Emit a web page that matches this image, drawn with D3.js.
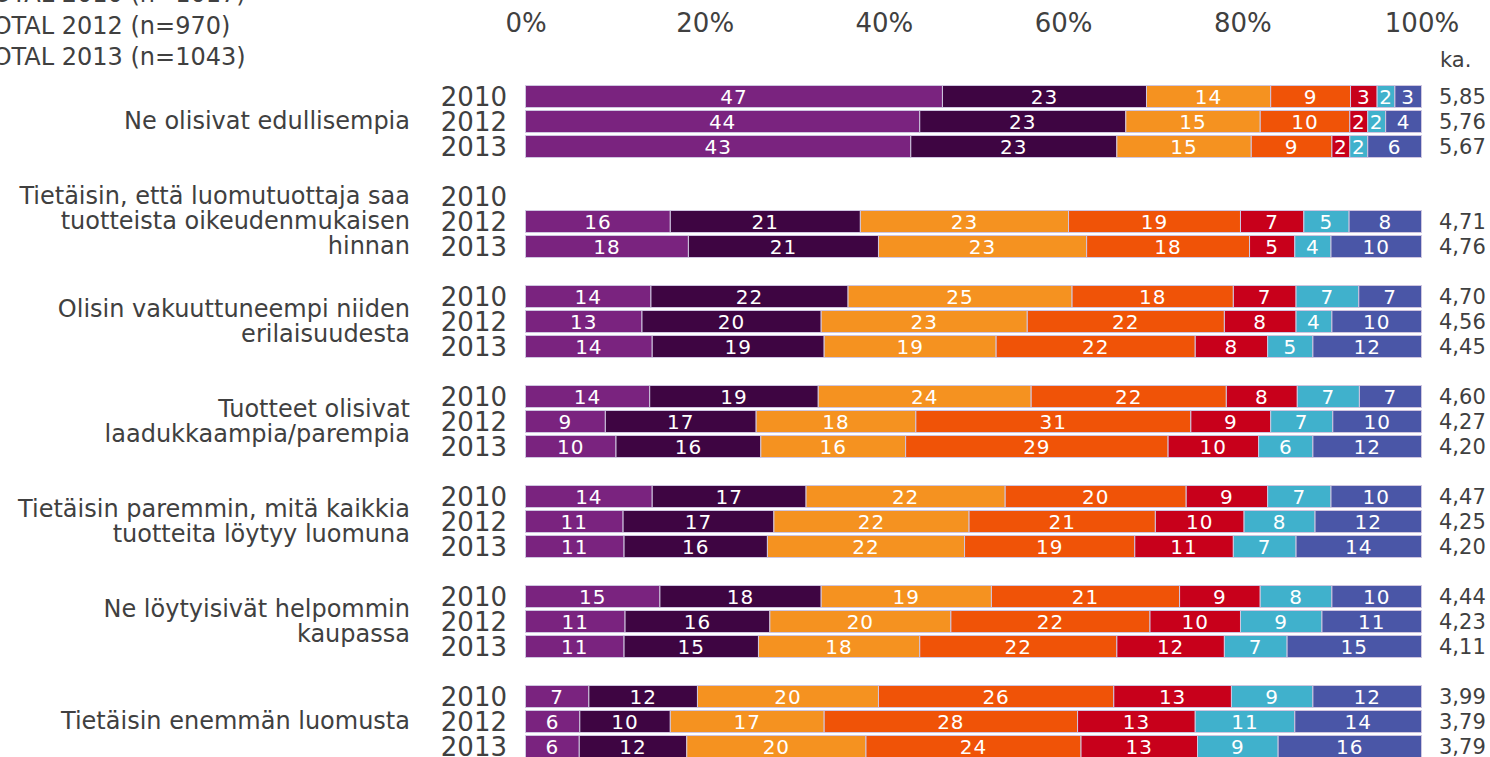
<!DOCTYPE html>
<html>
<head>
<meta charset="utf-8">
<script src="https://cdn.jsdelivr.net/npm/d3@7"></script>
<style>
  body { margin: 0; background: #fff; }
  svg { display: block; font-family: "DejaVu Sans", Verdana, sans-serif; }
  text { fill: #404040; }
</style>
</head>
<body>
<svg width="1490" height="757"></svg>
<script>
// the data
var categories = [
    "Ne olisivat edullisempia",
    "Tietäisin, että luomutuottaja saa|tuotteista oikeudenmukaisen|hinnan",
    "Olisin vakuuttuneempi niiden|erilaisuudesta",
    "Tuotteet olisivat|laadukkaampia/parempia",
    "Tietäisin paremmin, mitä kaikkia|tuotteita löytyy luomuna",
    "Ne löytyisivät helpommin|kaupassa",
    "Tietäisin enemmän luomusta"
];
var years = ["2010", "2012", "2013"];
var totals = ["TOTAL 2010 (n=1017)", "TOTAL 2012 (n=970)", "TOTAL 2013 (n=1043)"];

var values2010 = [
    [47, 23, 14, 9, 3, 2, 3],
    null,
    [14, 22, 25, 18, 7, 7, 7],
    [14, 19, 24, 22, 8, 7, 7],
    [14, 17, 22, 20, 9, 7, 10],
    [15, 18, 19, 21, 9, 8, 10],
    [7, 12, 20, 26, 13, 9, 12]
];
var values2012 = [
    [44, 23, 15, 10, 2, 2, 4],
    [16, 21, 23, 19, 7, 5, 8],
    [13, 20, 23, 22, 8, 4, 10],
    [9, 17, 18, 31, 9, 7, 10],
    [11, 17, 22, 21, 10, 8, 12],
    [11, 16, 20, 22, 10, 9, 11],
    [6, 10, 17, 28, 13, 11, 14]
];
var values2013 = [
    [43, 23, 15, 9, 2, 2, 6],
    [18, 21, 23, 18, 5, 4, 10],
    [14, 19, 19, 22, 8, 5, 12],
    [10, 16, 16, 29, 10, 6, 12],
    [11, 16, 22, 19, 11, 7, 14],
    [11, 15, 18, 22, 12, 7, 15],
    [6, 12, 20, 24, 13, 9, 16]
];
var means2010 = ["5,85", "", "4,70", "4,60", "4,47", "4,44", "3,99"];
var means2012 = ["5,76", "4,71", "4,56", "4,27", "4,25", "4,23", "3,79"];
var means2013 = ["5,67", "4,76", "4,45", "4,20", "4,20", "4,11", "3,79"];

var xTicks = [0, 20, 40, 60, 80, 100];
var segColors = ["#7a237f", "#3e0542", "#f59220", "#f05307", "#c8001b", "#40b1cc", "#4a56a7"];

var svg = d3.select("svg");

// build one row per category/year, plus an empty slot between groups
var rows = [], slots = [];
categories.forEach(function(c, i) {
    [values2010, values2012, values2013].forEach(function(arr, j) {
        var key = i + "-" + years[j];
        slots.push(key);
        rows.push({key: key, cat: i, year: years[j], vals: arr[i],
                   mean: [means2010, means2012, means2013][j][i]});
    });
    if (i < categories.length - 1) slots.push("gap" + i);
});

var x = d3.scaleLinear().domain([0, 100]).range([525.5, 1421.5]);
var y = d3.scaleBand().domain(slots).range([84, 759]).paddingInner(0.12).paddingOuter(0.06);

// top legend lines (clipped at the left and top like the source)
svg.append("g").selectAll("text")
    .data(totals)
    .enter().append("text")
    .attr("x", -22)
    .attr("y", (d, i) => 2 + i * 31.5)
    .style("font-size", "24px")
    .text(d => d);

// axis on top, only labels
var axis = svg.append("g")
    .attr("transform", "translate(0,32)")
    .call(d3.axisTop(x).tickValues(xTicks).tickFormat(d => d + "%").tickSize(0).tickPadding(0));
axis.select(".domain").remove();
axis.selectAll("text")
    .style("font-size", "26px")
    .style("font-family", "DejaVu Sans, Verdana, sans-serif")
    .attr("fill", "#404040")
    .attr("dy", 0);

svg.append("text")
    .attr("x", 1440)
    .attr("y", 67)
    .style("font-size", "21px")
    .text("ka.");

// bars
var rowG = svg.append("g").selectAll("g")
    .data(rows)
    .enter().append("g")
    .attr("transform", d => "translate(0," + y(d.key) + ")");

rowG.append("text")
    .attr("x", 507)
    .attr("y", y.bandwidth() / 2)
    .attr("dy", "0.36em")
    .attr("text-anchor", "end")
    .style("font-size", "26px")
    .text(d => d.year);

rowG.append("text")
    .attr("x", 1439)
    .attr("y", y.bandwidth() / 2)
    .attr("dy", "0.36em")
    .style("font-size", "21px")
    .text(d => d.mean);

var seg = rowG.filter(d => d.vals).selectAll("g.seg")
    .data(function(d) {
        var total = d3.sum(d.vals), cum = 0;
        return d.vals.map(function(v, k) {
            var s = {v: v, k: k, x0: cum / total * 100, x1: (cum + v) / total * 100};
            cum += v;
            return s;
        });
    })
    .enter().append("g")
    .attr("class", "seg");

seg.append("rect")
    .attr("x", d => x(d.x0))
    .attr("width", d => x(d.x1) - x(d.x0))
    .attr("height", y.bandwidth())
    .attr("fill", d => segColors[d.k])
    .attr("stroke", "#cfc6e0")
    .attr("stroke-width", 1);

seg.append("text")
    .attr("x", d => (x(d.x0) + x(d.x1)) / 2)
    .attr("y", y.bandwidth() / 2)
    .attr("dy", "0.36em")
    .attr("text-anchor", "middle")
    .style("font-size", "20px")
    .style("letter-spacing", "1px")
    .style("fill", "#fff")
    .text(d => d.v);

// category labels, centred on the middle row of each group
svg.append("g").selectAll("text")
    .data(categories)
    .enter().append("text")
    .attr("text-anchor", "end")
    .style("font-size", "24px")
    .each(function(c, i) {
        var lines = c.split("|");
        var mid = y(i + "-2012") + y.bandwidth() / 2;
        d3.select(this).selectAll("tspan")
            .data(lines)
            .enter().append("tspan")
            .attr("x", 410)
            .attr("y", (l, k) => mid + (k - (lines.length - 1) / 2) * 25 - 1)
            .attr("dy", "0.36em")
            .text(l => l);
    });
</script>
</body>
</html>
